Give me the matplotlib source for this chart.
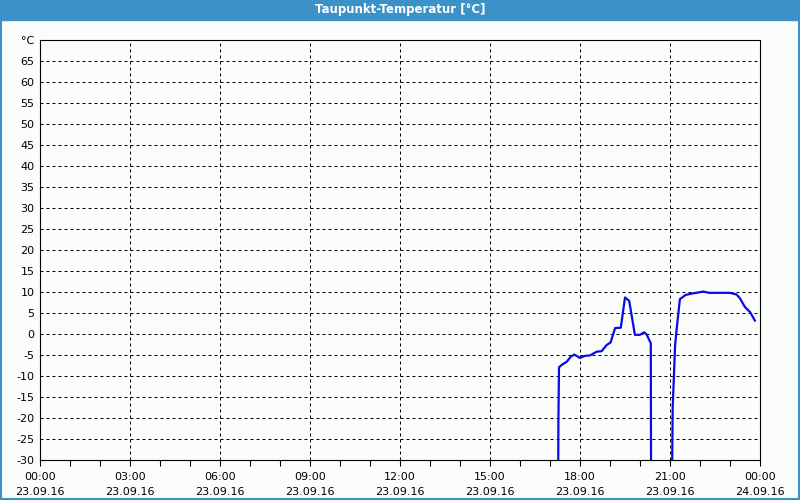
import numpy as np
import matplotlib.pyplot as plt
from matplotlib.patches import Rectangle

# Dew point readings (hours since 23.09.16 00:00), NaN = no data
hours = [17.27, 17.28, 17.30, 17.44, 17.56, 17.69, 17.81, 18.00, 18.17, 18.33,
         18.56, 18.72, 18.89, 19.02, 19.17, 19.36, 19.50, 19.64, 19.83, 20.00,
         20.14, 20.22, 20.36, 20.37,
         20.70,
         21.06, 21.09, 21.13, 21.17, 21.22, 21.33, 21.52, 21.78, 22.11, 22.30,
         23.00, 23.22, 23.33, 23.50, 23.67, 23.83]
dewpoint = [-40, -20.9, -7.9, -7.1, -6.6, -5.4, -4.9, -5.7, -5.2, -5.1,
            -4.2, -4.1, -2.6, -2.0, 1.4, 1.5, 8.7, 7.9, -0.2, -0.2,
            0.4, -0.1, -2.2, -40,
            np.nan,
            -40, -17.3, -10.2, -2.6, 1.0, 8.3, 9.3, 9.7, 10.1, 9.8,
            9.8, 9.4, 8.5, 6.4, 5.2, 3.2]

yticks = list(range(-30, 70, 5))
xticks = list(range(0, 25, 3))
xlabels = ['00:00\n23.09.16', '03:00\n23.09.16', '06:00\n23.09.16',
           '09:00\n23.09.16', '12:00\n23.09.16', '15:00\n23.09.16',
           '18:00\n23.09.16', '21:00\n23.09.16', '00:00\n24.09.16']

blue = '#3c91c6'
bg = '#fbfdfb'

fig = plt.figure(figsize=(8, 5), dpi=100, facecolor=bg)
ax = fig.add_axes([0.05, 0.08, 0.9, 0.84], facecolor=bg)

# title bar + frame
fig.patches.append(Rectangle((0, 0.96), 1, 0.04, transform=fig.transFigure,
                             color=blue, zorder=0))
fig.patches.append(Rectangle((0.001, 0.002), 0.998, 0.996, transform=fig.transFigure,
                             fill=False, edgecolor=blue, lw=1.5, zorder=0))
fig.text(0.5, 0.98, 'Taupunkt-Temperatur [°C]', color='white', ha='center',
         va='center', fontsize=8.5, fontweight='bold')

ax.plot(hours, dewpoint, color='#0a0ae6', lw=1.6, zorder=3, clip_on=True)

ax.set_xlim(0, 24)
ax.set_ylim(-30, 70)

ax.set_yticks(yticks + [70])
ax.set_yticklabels([str(v) for v in yticks] + ['°C'])
ax.tick_params(axis='y', length=0, pad=4, labelsize=8)

ax.set_xticks(xticks)
ax.set_xticklabels(xlabels, linespacing=1.6)
ax.set_xticks(range(0, 25), minor=True)
ax.tick_params(axis='x', which='both', direction='out', length=4, width=0.8,
               labelsize=8, pad=5)

for v in yticks[1:]:
    ax.axhline(v, color='black', lw=0.72, ls=(0, (3, 3)), zorder=1)
for h in xticks[1:-1]:
    ax.axvline(h, color='black', lw=0.72, ls=(0, (3, 3)), zorder=1)

for s in ax.spines.values():
    s.set_linewidth(0.8)
    s.set_color('black')

fig.savefig('out.png', dpi=100, facecolor=bg)
